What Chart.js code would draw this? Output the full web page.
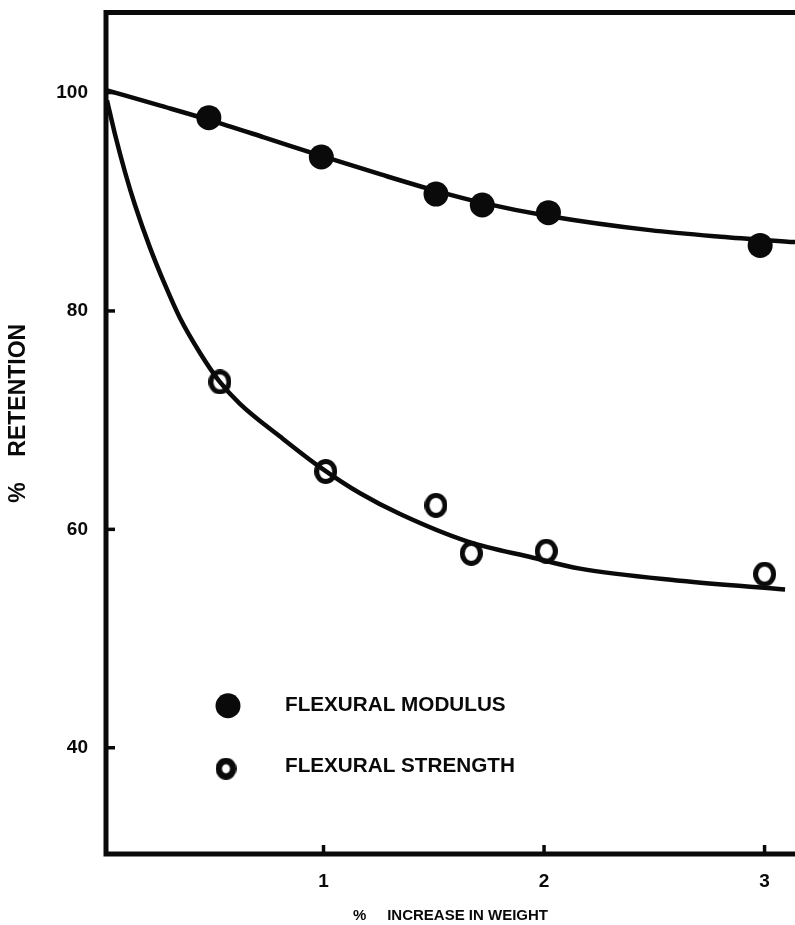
<!DOCTYPE html>
<html><head><meta charset="utf-8">
<script src="https://cdn.jsdelivr.net/npm/chart.js@4.4.1/dist/chart.umd.min.js"></script>
<style>html,body{margin:0;padding:0;background:#fff;overflow:hidden;}#wrap{width:795px;height:925px;}canvas{display:block;}</style>
</head><body><div id="wrap"><canvas id="c" width="795" height="925"></canvas></div>
<script>
// ---- data ----
const seriesLabels = ['FLEXURAL MODULUS', 'FLEXURAL STRENGTH'];
const modulusWeight = [0.48, 0.99, 1.51, 1.72, 2.02, 2.98];
const modulusRetention = [97.7, 94.1, 90.7, 89.7, 89.0, 86.0];
const strengthWeight = [0.53, 1.01, 1.51, 1.67, 2.01, 3.00];
const strengthRetention = [73.5, 65.3, 62.2, 57.8, 58.0, 55.9];
// fitted curves as drawn in the picture
const modulusCurveWeight = [0.018, 0.26, 0.48, 0.73, 0.99, 1.26, 1.51, 1.72, 2.02, 2.48, 2.80, 3.14];
const modulusCurveRetention = [100.2, 98.8, 97.5, 95.9, 94.2, 92.5, 91.0, 89.9, 88.7, 87.4, 86.8, 86.3];
const strengthCurveWeight = [0.018, 0.054, 0.100, 0.145, 0.213, 0.281, 0.349, 0.440, 0.526, 0.621, 0.803, 0.984, 1.166, 1.347, 1.651, 1.950, 2.163, 2.617, 3.093];
const strengthCurveRetention = [99.3, 96.2, 92.7, 89.7, 85.8, 82.4, 79.35, 76.15, 73.6, 71.5, 68.5, 65.7, 63.3, 61.4, 58.9, 57.4, 56.4, 55.3, 54.5];
const xTickValues = [1, 2, 3];
const yTickValues = [40, 60, 80, 100];
const xTitle = '%     INCREASE IN WEIGHT';
const yTitle = '%    RETENTION';

const pts = (xs, ys) => xs.map((x, i) => ({x: x, y: ys[i]}));
const INK = '#0a0a0a';
const FONT = '"Liberation Sans", Arial, Helvetica, sans-serif';

function ringStyle(w, h, lw) {
  const c = document.createElement('canvas');
  c.width = w; c.height = h;
  const g = c.getContext('2d');
  g.strokeStyle = INK; g.lineWidth = lw;
  g.beginPath();
  g.ellipse(w / 2, h / 2, w / 2 - lw / 2, h / 2 - lw / 2, 0, 0, Math.PI * 2);
  g.stroke();
  return c;
}
const ring = ringStyle(23, 25, 5);
const legendRing = ringStyle(21, 22, 6.5);

const framePlugin = {
  id: 'frame',
  afterDatasetsDraw(chart) {
    const ctx = chart.ctx, a = chart.chartArea;
    const xs = chart.scales.x, ys = chart.scales.y;
    ctx.save();
    ctx.strokeStyle = INK;
    ctx.lineCap = 'square';
    ctx.lineWidth = 5;
    ctx.beginPath();
    ctx.moveTo(chart.width, a.top); ctx.lineTo(a.left, a.top);
    ctx.lineTo(a.left, a.bottom); ctx.lineTo(chart.width, a.bottom);
    ctx.stroke();
    ctx.lineWidth = 3.5; ctx.lineCap = 'butt';
    yTickValues.forEach(v => {
      const y = ys.getPixelForValue(v);
      ctx.beginPath(); ctx.moveTo(a.left, y); ctx.lineTo(a.left + 9, y); ctx.stroke();
    });
    xTickValues.forEach(v => {
      const x = xs.getPixelForValue(v);
      ctx.beginPath(); ctx.moveTo(x, a.bottom); ctx.lineTo(x, a.bottom - 9); ctx.stroke();
    });
    // y title
    ctx.fillStyle = INK;
    ctx.font = 'bold 23px ' + FONT;
    ctx.textAlign = 'center'; ctx.textBaseline = 'middle';
    ctx.translate(19, (a.top + a.bottom) / 2 - 20);
    ctx.rotate(-Math.PI / 2);
    ctx.fillText(yTitle, 0, 0);
    ctx.restore();

    // legend inside plot
    ctx.save();
    ctx.fillStyle = INK;
    ctx.font = 'bold 20.7px ' + FONT;
    ctx.textAlign = 'left'; ctx.textBaseline = 'middle';
    const mx = a.left + 122, tx = a.left + 179;
    const rows = [ys.getPixelForValue(40) - 42, ys.getPixelForValue(40) + 21];
    ctx.beginPath(); ctx.arc(mx, rows[0], 12.5, 0, Math.PI * 2); ctx.fill();
    ctx.drawImage(legendRing, mx - 12.5, rows[1] - 11);
    ctx.fillText(chart.data.datasets[2].label, tx, rows[0]);
    ctx.fillText(chart.data.datasets[3].label, tx, rows[1] - 2);
    ctx.restore();
  }
};

new Chart(document.getElementById('c'), {
  type: 'scatter',
  data: {
    datasets: [
      {label: 'modulus fit', data: pts(modulusCurveWeight, modulusCurveRetention), showLine: true,
       borderColor: INK, borderWidth: 4.5, pointRadius: 0, cubicInterpolationMode: 'monotone', fill: false},
      {label: 'strength fit', data: pts(strengthCurveWeight, strengthCurveRetention), showLine: true,
       borderColor: INK, borderWidth: 4.5, pointRadius: 0, cubicInterpolationMode: 'monotone', fill: false},
      {label: seriesLabels[0], data: pts(modulusWeight, modulusRetention), showLine: false,
       pointStyle: 'circle', pointRadius: 12.5, backgroundColor: INK, borderWidth: 0},
      {label: seriesLabels[1], data: pts(strengthWeight, strengthRetention), showLine: false,
       pointStyle: ring, pointRadius: 12, backgroundColor: 'rgba(0,0,0,0)', borderColor: INK}
    ]
  },
  options: {
    responsive: false,
    animation: false,
    devicePixelRatio: 1,
    layout: {autoPadding: false, padding: {top: 12.5, right: 0, bottom: 0, left: 0}},
    plugins: {legend: {display: false}, tooltip: {enabled: false}},
    scales: {
      x: {
        type: 'linear', min: 0.0136, max: 3.138,
        afterBuildTicks: s => { s.ticks = xTickValues.map(v => ({value: v})); },
        afterFit: s => { s.height = 71; s.paddingLeft = 0; s.paddingRight = 0; s.paddingTop = 0; s.paddingBottom = 0; },
        grid: {display: false, drawTicks: false},
        border: {display: false},
        ticks: {color: INK, font: {family: FONT, size: 19, weight: 'bold'}, padding: 16,
                callback: v => String(v)},
        title: {display: true, text: xTitle, color: INK, padding: {top: 0, bottom: 0},
                font: {family: FONT, size: 15, weight: 'bold'}}
      },
      y: {
        type: 'linear', min: 30.27, max: 107.33,
        afterBuildTicks: s => { s.ticks = yTickValues.map(v => ({value: v})); },
        afterFit: s => { s.width = 106; s.paddingTop = 0; s.paddingBottom = 0; s.paddingLeft = 0; s.paddingRight = 0; },
        grid: {display: false, drawTicks: false},
        border: {display: false},
        ticks: {color: INK, font: {family: FONT, size: 19, weight: 'bold'}, padding: 18,
                callback: v => String(v)}
      }
    }
  },
  plugins: [framePlugin]
});
</script>
</body></html>
